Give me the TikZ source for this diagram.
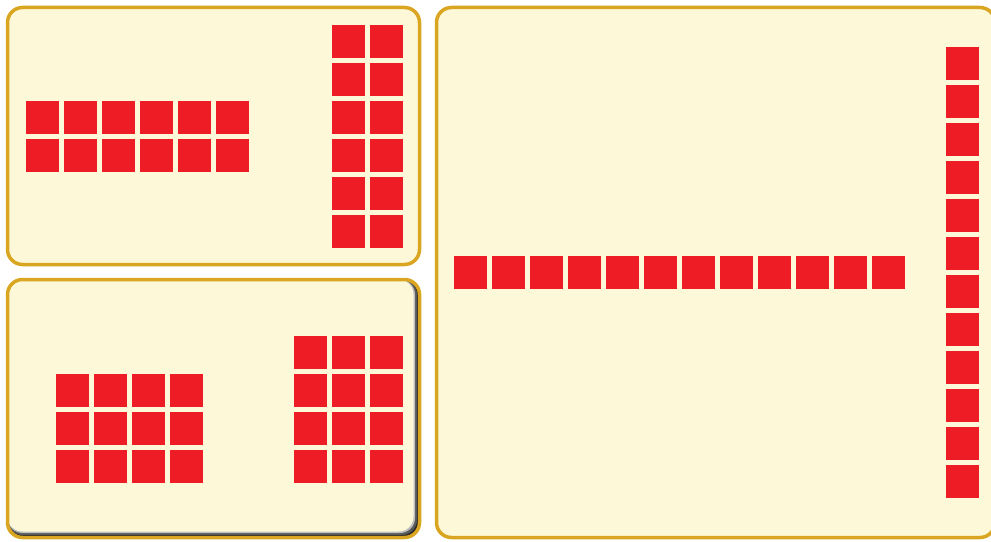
\documentclass[tikz,border=0pt]{standalone}
\usepackage{tikz}

\definecolor{panelfill}{RGB}{253,249,216}
\definecolor{panelrim}{RGB}{218,165,32}
\definecolor{tilered}{RGB}{238,29,37}

\begin{document}
\begin{tikzpicture}[x=0.2mm, y=-0.2mm,
  panel/.style={fill=panelfill, draw=panelrim, line width=0.7mm, rounded corners=3mm},
  tile/.style={fill=tilered}]

  % --- Page frame ---
  \clip (0,0) rectangle (991,542);

  % --- Panels ---
  \draw[panel] (7.5,7.5) rectangle (419.5,264.5);
  \draw[panel] (436.5,7.5) rectangle (995,537.5);

  % bottom-left panel, with inner shadow
  \fill[black!85, rounded corners=3mm] (7.5,279.5) rectangle (419.5,537.5);
  \fill[gray!70!black, rounded corners=3mm] (7.5,279.5) rectangle (417,535);
  \fill[gray!50, rounded corners=3mm] (7.5,279.5) rectangle (415,533);
  \fill[panelfill, rounded corners=3mm] (7.5,279.5) rectangle (413.5,531.5);
  \draw[panel, fill=none] (7.5,279.5) rectangle (419.5,537.5);

  % --- Top-left: 2 x 6 and 6 x 2 ---
  \foreach \r in {0,1}{
    \foreach \c in {0,...,5}{
      \fill[tile] ({26+38*\c},{101+38*\r}) rectangle ++(33,33);
    }
  }
  \foreach \r in {0,...,5}{
    \foreach \c in {0,1}{
      \fill[tile] ({332+38*\c},{25+38*\r}) rectangle ++(33,33);
    }
  }

  % --- Bottom-left: 3 x 4 and 4 x 3 ---
  \foreach \r in {0,1,2}{
    \foreach \c in {0,...,3}{
      \fill[tile] ({56+38*\c},{374+38*\r}) rectangle ++(33,33);
    }
  }
  \foreach \r in {0,...,3}{
    \foreach \c in {0,1,2}{
      \fill[tile] ({294+38*\c},{336+38*\r}) rectangle ++(33,33);
    }
  }

  % --- Right: 1 x 12 and 12 x 1 ---
  \foreach \c in {0,...,11}{
    \fill[tile] ({454+38*\c},256) rectangle ++(33,33);
  }
  \foreach \r in {0,...,11}{
    \fill[tile] (946,{47+38*\r}) rectangle ++(33,33);
  }

\end{tikzpicture}
\end{document}
